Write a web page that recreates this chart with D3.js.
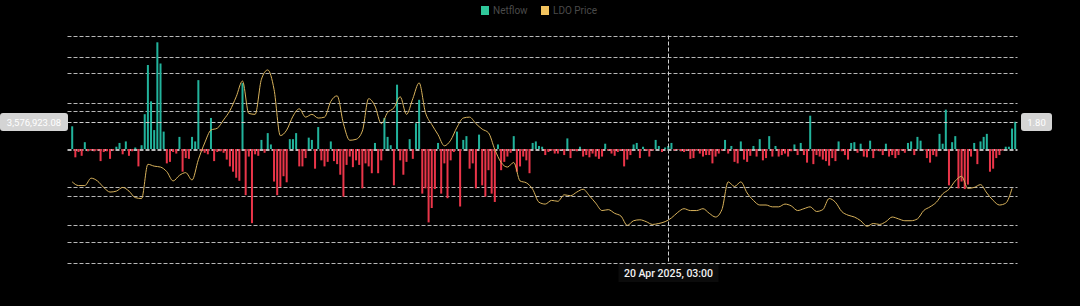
<!DOCTYPE html>
<html lang="en">
<head>
<meta charset="UTF-8">
<title>LDO Netflow vs Price</title>
<script src="https://cdn.jsdelivr.net/npm/d3@7"></script>
<style>
    html, body { margin: 0; padding: 0; background: #000; }
    svg { display: block; font-family: Roboto, Inter, sans-serif; }
</style>
</head>
<body>
<script>
'use strict';
// one bar per day, price every 2 days
var startDate = new Date(2024, 9, 13, 3, 0);

var netflowMillions = [
    3.0, -1.1, -0.4, -0.9, 0.9, -0.3, -0.2, -0.3, -0.2, -1.6, -0.4,
    -0.3, -1.3, -0.2, 0.3, 0.8, -0.7, 1.0, -0.9, -0.3, 0.2,
    -2.3, 0.5, 4.6, 11.1, 6.3, 2.5, 14.1, 11.3, 2.3, -1.9,
    -1.7, -0.4, -0.6, 1.6, -3.0, -1.2, -1.3, 1.6, 1.0, 9.1, -0.3,
    -0.5, -0.7, 4.1, -1.6, -0.4, -0.3, -0.5, -1.4, -2.3, -3.0, -3.8,
    -4.2, 8.7, -6.1, -1.0, -9.8, -0.7, -0.9, 1.2, -0.5, 2.1,
    0.6, -4.3, -6.1, -5.0, -3.6, -4.4, 1.3, 1.3, 2.1, -2.3,
    -2.3, -1.2, 1.5, 1.2, -2.6, 2.9, -1.5, -2.3, -1.7, 1.0, -1.6,
    -2.0, -3.4, -6.3, -2.1, -1.0, -2.4, -1.5, -2.1, -5.2, -1.9,
    -2.3, -3.2, 0.8, -3.2, -1.5, 4.1, 1.6, 0.5, -4.8, 8.5,
    -1.5, -3.4, -1.7, 1.3, -1.3, 3.4, 6.5, -5.9, -5.2, -9.7,
    -7.8, -5.3, 0.8, -5.9, -1.9, -6.5, -1.5, -0.4, 2.3, -7.6,
    1.2, 1.7, -2.6, -1.9, -5.2, 1.9, -4.8, -6.3, -2.8, -5.9,
    -7.0, 0.6, -2.8, -1.7, -1.0, -0.5, 1.7, -3.0, -2.3, -1.0,
    -1.5, -3.2, 0.8, 1.0, 0.4, 0.3, -0.8, -0.4, -0.2, -0.6,
    -0.6, -0.1, -0.8, 1.4, -1.2, -0.2, -0.3, 0.3, -1.0, -0.8,
    -1.1, -0.6, -1.0, -1.3, -1.0, 0.7, -0.2, -0.6, -0.9, -0.4,
    -0.2, -2.3, -1.4, -0.8, 0.6, 0.8, -1.2, 0.3, -0.2, -1.0,
    -0.2, 1.2, 0.4, -0.4, 0.2, 0.4, 0.8, -0.2,
    -0.1, -0.3, -0.4, -0.2, -1.3, -1.2, -0.2, -0.6, -1.0, -0.8,
    -0.8, -1.9, -1.0, -0.6, -0.2, 1.2, -0.6, 0.4, -1.7, -1.9,
    1.0, -1.4, -1.7, -0.9, 0.4, -1.0, 1.3, -1.5, -1.2,
    1.7, -1.0, 0.4, -1.0, -0.8, -0.6, -1.0, -0.3, 0.6, -0.8,
    0.8, -0.8, -1.8, 4.4, -2.0, -0.8, -1.0, -1.4, -1.6, -2.2,
    -1.2, -1.6, 1.0, -0.3, -0.8, -1.4, 0.8, 0.9, -0.5, 0.7,
    -1.0, -1.1, 1.1, -1.2, -0.2, -0.3, -0.8, 0.7, -1.0, -0.8,
    -1.2, -0.8, -0.2, -0.5, 0.8, 1.0, -0.8, 1.6, 1.1, -0.1,
    -1.2, -1.8, -0.8, -1.0, 2.0, 0.7, 5.2, -4.8, 0.9, 1.7,
    -5.2, -4.3, -5.3, -4.7, -1.0, 0.8, -2.0, 1.0, 1.6, 2.0,
    -3.0, -2.6, -1.2, -0.8, -0.2, 0.3, 0.3, 2.7, 3.6
];

var ldoPrice = [
    1.15, 1.11, 1.11, 1.19, 1.16, 1.09, 1.04, 1.05, 1.09, 1.05,
    0.98, 0.97, 1.34, 1.32, 1.31, 1.26, 1.16, 1.22, 1.25, 1.17,
    1.39, 1.57, 1.71, 1.73, 1.82, 1.92, 2.07, 2.24, 1.89, 1.88,
    2.26, 2.36, 2.15, 1.65, 1.71, 1.86, 1.94, 1.85, 1.88, 1.84,
    1.85, 2.02, 2.08, 1.78, 1.60, 1.61, 1.70, 2.05, 1.97, 1.78,
    1.90, 1.95, 2.07, 1.88, 2.05, 2.22, 1.90, 1.77, 1.66, 1.54,
    1.60, 1.74, 1.84, 1.85, 1.78, 1.72, 1.68, 1.50, 1.36, 1.31,
    1.36, 1.16, 1.14, 1.07, 0.93, 0.91, 0.95, 0.94, 1.01, 1.00,
    1.04, 1.07, 1.00, 0.92, 0.84, 0.85, 0.81, 0.78, 0.68, 0.73,
    0.74, 0.72, 0.69, 0.70, 0.72, 0.76, 0.82, 0.86, 0.84, 0.84,
    0.86, 0.81, 0.77, 0.85, 1.15, 1.10, 1.15, 1.03, 0.95, 0.90,
    0.90, 0.88, 0.88, 0.91, 0.89, 0.84, 0.86, 0.88, 0.83, 0.85,
    0.97, 0.93, 0.83, 0.79, 0.77, 0.73, 0.67, 0.70, 0.69, 0.72,
    0.77, 0.75, 0.73, 0.73, 0.75, 0.84, 0.88, 0.93, 1.02, 1.07,
    1.16, 1.21, 1.08, 1.09, 1.12, 1.03, 0.95, 0.90, 0.92, 1.08
];

var netflowTicks = [-15, -10, -5, 0, 5, 10, 15];
var priceTicks = [0.5, 1.0, 1.5, 2.0, 2.5];
var legendNames = ['Netflow', 'LDO Price'];
var legendColors = ['#2fc79a', '#f2c35e'];

// crosshair state
var hoverDate = new Date(2025, 3, 20, 3, 0);
var hoverNetflow = 3576923.08;

var w = 1080, h = 306;
var gridLeft = 67.5, gridRight = 1017.5;

var svg = d3.select('body').append('svg')
    .attr('width', w)
    .attr('height', h);

var x = d3.scaleTime()
    .domain([startDate, d3.timeDay.offset(startDate, netflowMillions.length - 1)])
    .range([72.2, 1015.2]);

var yFlow = d3.scaleLinear().domain([-15, 15]).range([262.5, 35.5]);
var yPrice = d3.scaleLinear().domain([0.5, 2.5]).range([242, 57]);

// grid lines for both axes
var gridVals = netflowTicks.map(yFlow).concat(priceTicks.map(yPrice));
svg.append('g').selectAll('line')
    .data(gridVals)
    .enter().append('line')
    .attr('x1', gridLeft).attr('x2', gridRight)
    .attr('y1', d => Math.round(d) + 0.5)
    .attr('y2', d => Math.round(d) + 0.5)
    .attr('stroke', '#cccccc')
    .attr('stroke-opacity', 0.9)
    .attr('stroke-dasharray', '4,2');

// bars
svg.append('g').selectAll('rect')
    .data(netflowMillions)
    .enter().append('rect')
    .attr('x', (d, i) => x(d3.timeDay.offset(startDate, i)) - 1)
    .attr('width', 2)
    .attr('y', d => Math.min(yFlow(d), yFlow(0)))
    .attr('height', d => Math.abs(yFlow(d) - yFlow(0)))
    .attr('fill', d => d >= 0 ? '#22b39c' : '#ea3549');

// price line
var line = d3.line()
    .x((d, i) => x(d3.timeDay.offset(startDate, i * 2)))
    .y(d => yPrice(d))
    .curve(d3.curveMonotoneX);

svg.append('path')
    .datum(ldoPrice)
    .attr('d', line)
    .attr('fill', 'none')
    .attr('stroke', '#d9b35c')
    .attr('stroke-width', 1);

// crosshair
var hy = yFlow(hoverNetflow / 1e6);
var cx = Math.round(x(hoverDate)) + 0.5;
var cy = Math.round(hy) + 0.5;

svg.append('line')
    .attr('x1', cx).attr('x2', cx)
    .attr('y1', 35.5).attr('y2', 262.5)
    .attr('stroke', '#d0d0d0')
    .attr('stroke-dasharray', '4,2');

svg.append('line')
    .attr('x1', gridLeft).attr('x2', gridRight)
    .attr('y1', cy).attr('y2', cy)
    .attr('stroke', '#d0d0d0')
    .attr('stroke-dasharray', '4,2');

// left value label
svg.append('rect')
    .attr('x', 0).attr('y', cy - 9.5)
    .attr('width', 68).attr('height', 18)
    .attr('rx', 3)
    .attr('fill', '#d4d4d4');
svg.append('text')
    .attr('x', 34).attr('y', cy + 3.5)
    .attr('text-anchor', 'middle')
    .attr('font-size', '9.5px')
    .attr('fill', '#ffffff')
    .text(d3.format(',.2f')(hoverNetflow));

// right value label
svg.append('rect')
    .attr('x', 1021).attr('y', cy - 9.5)
    .attr('width', 31).attr('height', 18)
    .attr('rx', 3)
    .attr('fill', '#d4d4d4');
svg.append('text')
    .attr('x', 1036.5).attr('y', cy + 3.5)
    .attr('text-anchor', 'middle')
    .attr('font-size', '9.5px')
    .attr('fill', '#ffffff')
    .text(d3.format('.2f')(yPrice.invert(hy)));

// date label
svg.append('rect')
    .attr('x', cx - 50).attr('y', 264)
    .attr('width', 100).attr('height', 18)
    .attr('fill', '#0b0b0b');
svg.append('text')
    .attr('x', cx).attr('y', 277)
    .attr('text-anchor', 'middle')
    .attr('font-size', '10.5px')
    .attr('font-weight', 500)
    .attr('fill', '#f2f2f2')
    .text(d3.timeFormat('%d %b %Y, %H:%M')(hoverDate));

// legend
var legend = svg.append('g');
var legendX = [481, 541];
legendNames.forEach(function(name, i) {
    legend.append('rect')
        .attr('x', legendX[i]).attr('y', 6)
        .attr('width', 8).attr('height', 9)
        .attr('fill', legendColors[i]);
    legend.append('text')
        .attr('x', legendX[i] + 12).attr('y', 14)
        .attr('font-size', '10px')
        .attr('fill', '#4a4a4a')
        .text(name);
});
</script>
</body>
</html>
